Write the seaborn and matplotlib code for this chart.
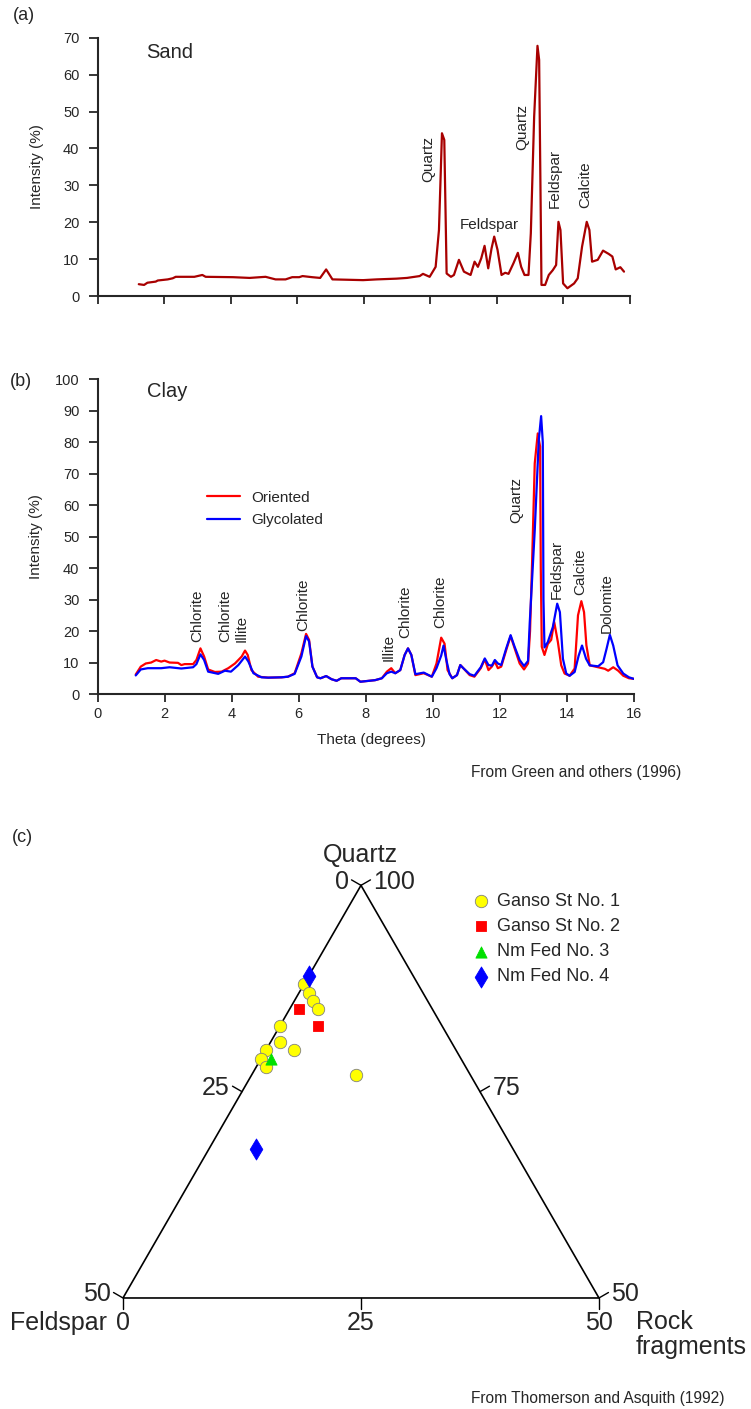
import numpy as np
import matplotlib
matplotlib.use("Agg")
import matplotlib.pyplot as plt
import seaborn as sns

# ---------------- (a) Sand diffractogram ----------------
sand_theta = [1.24, 1.40, 1.50, 1.75, 1.81, 2.11, 2.26, 2.35, 2.91, 3.15, 3.25, 4.07, 4.57, 5.05,
              5.35, 5.65, 5.85, 6.06, 6.16, 6.45, 6.69, 6.87, 7.06, 7.98, 8.39, 8.98, 9.30, 9.68,
              9.78, 9.98, 10.16, 10.26, 10.35, 10.42, 10.49, 10.62, 10.71, 10.86, 11.01, 11.21,
              11.33, 11.43, 11.53, 11.63, 11.74, 11.84, 11.92, 12.02, 12.14, 12.25, 12.35, 12.50,
              12.63, 12.73, 12.83, 12.95, 13.02, 13.12, 13.22, 13.27, 13.34, 13.45, 13.56, 13.68,
              13.78, 13.85, 13.91, 13.99, 14.12, 14.32, 14.43, 14.56, 14.70, 14.78, 14.86, 15.03,
              15.19, 15.36, 15.47, 15.57, 15.71, 15.82]
sand_int = [3.2, 3.0, 3.6, 3.9, 4.2, 4.5, 4.8, 5.2, 5.2, 5.7, 5.2, 5.1, 4.9, 5.2,
            4.5, 4.5, 5.1, 5.1, 5.4, 5.1, 4.9, 7.2, 4.5, 4.3, 4.5, 4.7, 4.9, 5.4,
            6.0, 5.2, 7.9, 17.9, 44.1, 42.3, 6.1, 5.2, 5.7, 9.8, 6.6, 5.7,
            9.3, 7.9, 10.2, 13.6, 7.5, 12.9, 16.1, 12.5, 5.7, 6.3, 6.0, 8.9,
            11.7, 7.9, 5.7, 5.7, 17.0, 48.6, 67.8, 64.0, 3.0, 3.0, 5.7, 7.0,
            8.4, 20.1, 17.9, 3.4, 2.1, 3.4, 4.8, 13.4, 20.1, 17.9, 9.3, 9.8,
            12.3, 11.4, 10.7, 7.2, 7.8, 6.6]

sand_peak_names = ["Quartz", "Feldspar", "Quartz", "Feldspar", "Calcite"]
sand_peak_x = [9.93, 11.76, 12.76, 13.75, 14.67]
sand_peak_y = [30.9, 17.3, 39.6, 23.8, 23.8]
sand_peak_rot = [90, 0, 90, 90, 90]

# ---------------- (b) Clay diffractograms ----------------
oriented_theta = [1.14, 1.29, 1.44, 1.60, 1.75, 1.90, 2.00, 2.15, 2.40, 2.50, 2.60, 2.85, 2.95, 3.07,
                  3.18, 3.30, 3.50, 3.70, 3.90, 4.10, 4.30, 4.40, 4.48, 4.59, 4.79, 5.09, 5.49, 5.68,
                  5.88, 6.08, 6.22, 6.31, 6.41, 6.55, 6.65, 6.82, 6.98, 7.13, 7.27, 7.70, 7.84, 8.28,
                  8.48, 8.63, 8.76, 8.88, 9.03, 9.16, 9.26, 9.36, 9.48, 9.73, 9.97, 10.11, 10.25,
                  10.35, 10.44, 10.58, 10.72, 10.82, 10.91, 11.10, 11.24, 11.43, 11.55, 11.66, 11.76,
                  11.85, 11.94, 12.04, 12.19, 12.32, 12.44, 12.59, 12.72, 12.84, 12.90, 12.96, 13.04,
                  13.13, 13.20, 13.22, 13.25, 13.33, 13.43, 13.53, 13.62, 13.73, 13.83, 13.93, 14.08,
                  14.23, 14.33, 14.43, 14.51, 14.58, 14.68, 14.93, 15.13, 15.23, 15.38, 15.53, 15.68,
                  15.85, 16.00]
oriented_int = [6.2, 8.7, 9.7, 10.0, 10.8, 10.3, 10.6, 10.0, 9.9, 9.2, 9.5, 9.5, 10.8, 14.5,
                11.9, 7.8, 7.0, 7.1, 8.2, 9.7, 11.9, 13.8, 12.4, 7.6, 5.5, 5.2, 5.3, 5.5,
                6.6, 12.9, 19.1, 17.2, 8.7, 5.3, 5.0, 5.7, 4.7, 4.2, 5.0, 5.0, 3.9, 4.4,
                5.0, 7.1, 8.2, 6.6, 7.6, 12.4, 14.5, 12.4, 6.0, 6.6, 5.5, 9.7, 17.9,
                16.0, 7.6, 5.0, 6.0, 9.2, 8.2, 6.0, 5.5, 8.2, 11.0, 7.6, 8.7,
                10.3, 8.2, 8.7, 14.0, 18.4, 14.5, 9.7, 7.8, 9.7, 20.0, 41.5, 73.3,
                82.8, 78.6, 40.0, 15.0, 12.4, 15.9, 17.2, 22.9, 16.5, 9.1, 6.5, 5.8,
                8.1, 25.0, 29.5, 26.0, 15.5, 9.1, 8.5, 8.0, 7.4, 8.5, 7.4, 5.8,
                5.0, 4.8]

glycolated_theta = [1.14, 1.29, 1.50, 1.90, 2.15, 2.50, 2.85, 2.95, 3.07, 3.18, 3.30, 3.60, 3.80,
                    3.98, 4.20, 4.40, 4.50, 4.65, 4.89, 5.09, 5.49, 5.68, 5.88, 6.08, 6.22, 6.31,
                    6.41, 6.55, 6.65, 6.82, 6.98, 7.13, 7.27, 7.70, 7.84, 8.28, 8.48, 8.63, 8.76,
                    8.88, 9.03, 9.16, 9.26, 9.36, 9.48, 9.73, 9.97, 10.11, 10.25, 10.32, 10.40,
                    10.50, 10.58, 10.72, 10.82, 10.91, 11.10, 11.24, 11.43, 11.55, 11.66, 11.76,
                    11.85, 11.94, 12.04, 12.19, 12.32, 12.44, 12.59, 12.72, 12.84, 12.89, 13.04,
                    13.16, 13.23, 13.28, 13.30, 13.33, 13.43, 13.58, 13.71, 13.79, 13.88, 13.98,
                    14.08, 14.23, 14.35, 14.45, 14.57, 14.68, 14.93, 15.08, 15.18, 15.28, 15.38,
                    15.51, 15.68, 15.85, 16.00]
glycolated_int = [5.9, 7.8, 8.2, 8.2, 8.5, 8.1, 8.5, 9.5, 12.6, 10.8, 7.1, 6.4, 7.4,
                  7.1, 9.2, 11.9, 10.3, 6.6, 5.3, 5.2, 5.3, 5.5, 6.4, 11.9, 18.4, 16.7,
                  8.7, 5.3, 5.0, 5.7, 4.7, 4.2, 5.0, 5.0, 3.9, 4.4, 5.0, 6.6, 7.1,
                  6.6, 7.6, 12.4, 14.5, 12.4, 6.3, 6.8, 5.5, 8.2, 12.2, 15.4, 11.0,
                  6.3, 5.0, 6.0, 9.2, 8.2, 6.3, 5.8, 8.5, 11.3, 9.2, 9.0,
                  10.8, 9.7, 9.2, 14.5, 18.7, 15.0, 10.8, 8.9, 10.5, 22.5, 52.0,
                  80.7, 88.3, 80.0, 30.0, 14.8, 16.5, 21.3, 28.7, 26.0, 11.2, 6.5,
                  5.8, 7.0, 12.2, 15.4, 11.2, 9.1, 8.8, 10.1, 14.3, 18.8, 15.4,
                  9.1, 6.5, 5.3, 4.8]

clay_peak_names = ["Chlorite", "Chlorite", "Illite", "Chlorite", "Illite", "Chlorite", "Chlorite",
                   "Quartz", "Feldspar", "Calcite", "Dolomite"]
clay_peak_x = [2.97, 3.81, 4.31, 6.13, 8.68, 9.19, 10.22, 12.49, 13.70, 14.40, 15.19]
clay_peak_y = [16.6, 16.6, 16.6, 20.1, 10.6, 17.7, 20.9, 54.4, 30.1, 31.5, 19.5]

# ---------------- (c) Ternary plot (Q, F, R in %) ----------------
wells = ["Ganso St No. 1", "Ganso St No. 2", "Nm Fed No. 3", "Nm Fed No. 4"]
well_q = [[88, 87, 86, 85, 83, 81, 80, 80, 79, 78, 77], [85, 83], [79], [89, 68]]
well_f = [[12, 12, 12, 12, 17, 18, 17, 20, 21, 21, 12], [14, 13], [20], [11, 27]]
well_r = [[0, 1, 2, 3, 0, 1, 3, 0, 0, 1, 11], [1, 4], [1], [0, 5]]
well_colors = ["#FFFF00", "#FF0000", "#00E000", "#0000FF"]
well_markers = ["o", "s", "^", "d"]
well_sizes = [80, 50, 65, 115]

corner_q = [100, 50, 50]
corner_f = [0, 50, 0]
corner_r = [0, 0, 50]
feldspar_ticks = [0, 25, 50]
quartz_ticks = [100, 75, 50]
rock_ticks = [0, 25, 50]


def tern_xy(q, f, r):
    q = np.asarray(q, float)
    f = np.asarray(f, float)
    r = np.asarray(r, float)
    return 25 + (r - f) / 2, (q - 50) * np.sqrt(3) / 2


sns.set_style("ticks")
plt.rcParams["font.family"] = ["Liberation Sans", "DejaVu Sans"]

W, H = 751, 1409
fig = plt.figure(figsize=(W / 100, H / 100), dpi=100)


def box(left, top, right, bottom):
    return [left / W, 1 - bottom / H, (right - left) / W, (bottom - top) / H]


def style_xrd(ax, ymax, show_xlabels):
    ax.set_xlim(0, 16)
    ax.set_ylim(0, ymax)
    ax.set_xticks(range(0, 17, 2))
    ax.set_yticks(range(0, ymax + 1, 10))
    sns.despine(ax=ax)
    for s in ["left", "bottom"]:
        ax.spines[s].set_linewidth(1.5)
    ax.tick_params(axis="y", length=6.5, width=1.3, pad=6.5, labelsize=10.5)
    ax.tick_params(axis="x", length=5.5, width=1.3, pad=3.5, labelsize=10.5)
    if not show_xlabels:
        ax.set_xticklabels([])
    ax.set_xlabel("")
    ax.set_ylabel("Intensity (%)", fontsize=11)
    ax.yaxis.set_label_coords(-0.101, 0.5)


# panel (a)
ax_a = fig.add_axes(box(97.5, 37.7, 630, 296))
sns.lineplot(x=sand_theta, y=sand_int, ax=ax_a, color="#A80000", lw=1.6,
             sort=False, estimator=None)
style_xrd(ax_a, 70, False)
ax_a.text(1.47, 65.9, "Sand", fontsize=14.5, va="center")
for name, x, y, rot in zip(sand_peak_names, sand_peak_x, sand_peak_y, sand_peak_rot):
    ax_a.text(x, y, name, rotation=rot, ha="center", va="bottom", fontsize=11)

# panel (b)
ax_b = fig.add_axes(box(97.5, 379.3, 634, 694))
sns.lineplot(x=oriented_theta, y=oriented_int, ax=ax_b, color="#FF0000", lw=1.6,
             sort=False, estimator=None, label="Oriented")
sns.lineplot(x=glycolated_theta, y=glycolated_int, ax=ax_b, color="#0000FF", lw=1.6,
             sort=False, estimator=None, label="Glycolated")
style_xrd(ax_b, 100, True)
ax_b.set_xlabel("Theta (degrees)", fontsize=11)
ax_b.xaxis.set_label_coords(0.511, -0.124)
ax_b.text(1.47, 96, "Clay", fontsize=14.5, va="center")
for name, x, y in zip(clay_peak_names, clay_peak_x, clay_peak_y):
    ax_b.text(x, y, name, rotation=90, ha="center", va="bottom", fontsize=11)
ax_b.legend(loc="center left", bbox_to_anchor=(3.28, 58.8), bbox_transform=ax_b.transData,
            frameon=False, borderpad=0, borderaxespad=0, handlelength=2.1,
            handletextpad=0.75, labelspacing=0.55, fontsize=11)

# panel (c) ternary
ax_c = fig.add_axes([0, 0, 1, (H - 820) / H])
ax_c.set_xlim(-12.92, 65.97)
ax_c.set_ylim(-11.65, 50.16)
ax_c.axis("off")

cx, cy = tern_xy(corner_q + corner_q[:1], corner_f + corner_f[:1], corner_r + corner_r[:1])
ax_c.plot(cx, cy, color="black", lw=1.2, solid_joinstyle="miter")

tl = 1.15
left_dir = np.array([-np.cos(np.pi / 6), np.sin(np.pi / 6)]) * tl
right_dir = np.array([np.cos(np.pi / 6), np.sin(np.pi / 6)]) * tl
for f in feldspar_ticks:
    x, y = tern_xy(100 - f, f, 0)
    ax_c.plot([x, x + left_dir[0]], [y, y + left_dir[1]], color="black", lw=1.0)
    ax_c.text(x + left_dir[0] - 0.3, y + left_dir[1] - 0.2, str(f), ha="right", va="center",
              fontsize=18)
for q in quartz_ticks:
    x, y = tern_xy(q, 0, 100 - q)
    ax_c.plot([x, x + right_dir[0]], [y, y + right_dir[1]], color="black", lw=1.0)
    ax_c.text(x + right_dir[0] + 0.3, y + right_dir[1] - 0.2, str(q), ha="left", va="center",
              fontsize=18)
for r in rock_ticks:
    x, y = tern_xy(50, 50 - r, r)
    ax_c.plot([x, x], [y, y - tl], color="black", lw=1.0)
    ax_c.text(x, y - 2.6, str(r), ha="center", va="center", fontsize=18)

ax_c.text(24.9, 46.5, "Quartz", ha="center", va="center", fontsize=18)
ax_c.text(-1.7, -2.6, "Feldspar", ha="right", va="center", fontsize=18)
ax_c.text(53.9, -1.3, "Rock\nfragments", ha="left", va="top", fontsize=18, linespacing=1.05)

for name, q, f, r, c, m, s in zip(wells, well_q, well_f, well_r, well_colors, well_markers, well_sizes):
    x, y = tern_xy(q, f, r)
    ec = "#808080" if m == "o" else c
    sns.scatterplot(x=x, y=y, ax=ax_c, color=c, marker=m, s=s, edgecolor=ec,
                    linewidth=0.6, label=name, zorder=3)
ax_c.legend(loc="upper left", bbox_to_anchor=(471.7 / W, 1 - 893 / H),
            bbox_transform=fig.transFigure, frameon=False, borderpad=0, borderaxespad=0,
            handlelength=1.0, handletextpad=0.4, labelspacing=0.45, fontsize=13)

# panel letters and sources
fig.text(13 / W, 1 - 16 / H, "(a)", fontsize=13, va="center")
fig.text(10 / W, 1 - 382 / H, "(b)", fontsize=13, va="center")
fig.text(12 / W, 1 - 838 / H, "(c)", fontsize=13, va="center")
fig.text(471 / W, 1 - 772 / H, "From Green and others (1996)", fontsize=11.2, va="center")
fig.text(471 / W, 1 - 1398 / H, "From Thomerson and Asquith (1992)", fontsize=11.2,
         va="center")

fig.savefig("out.png", dpi=100)
